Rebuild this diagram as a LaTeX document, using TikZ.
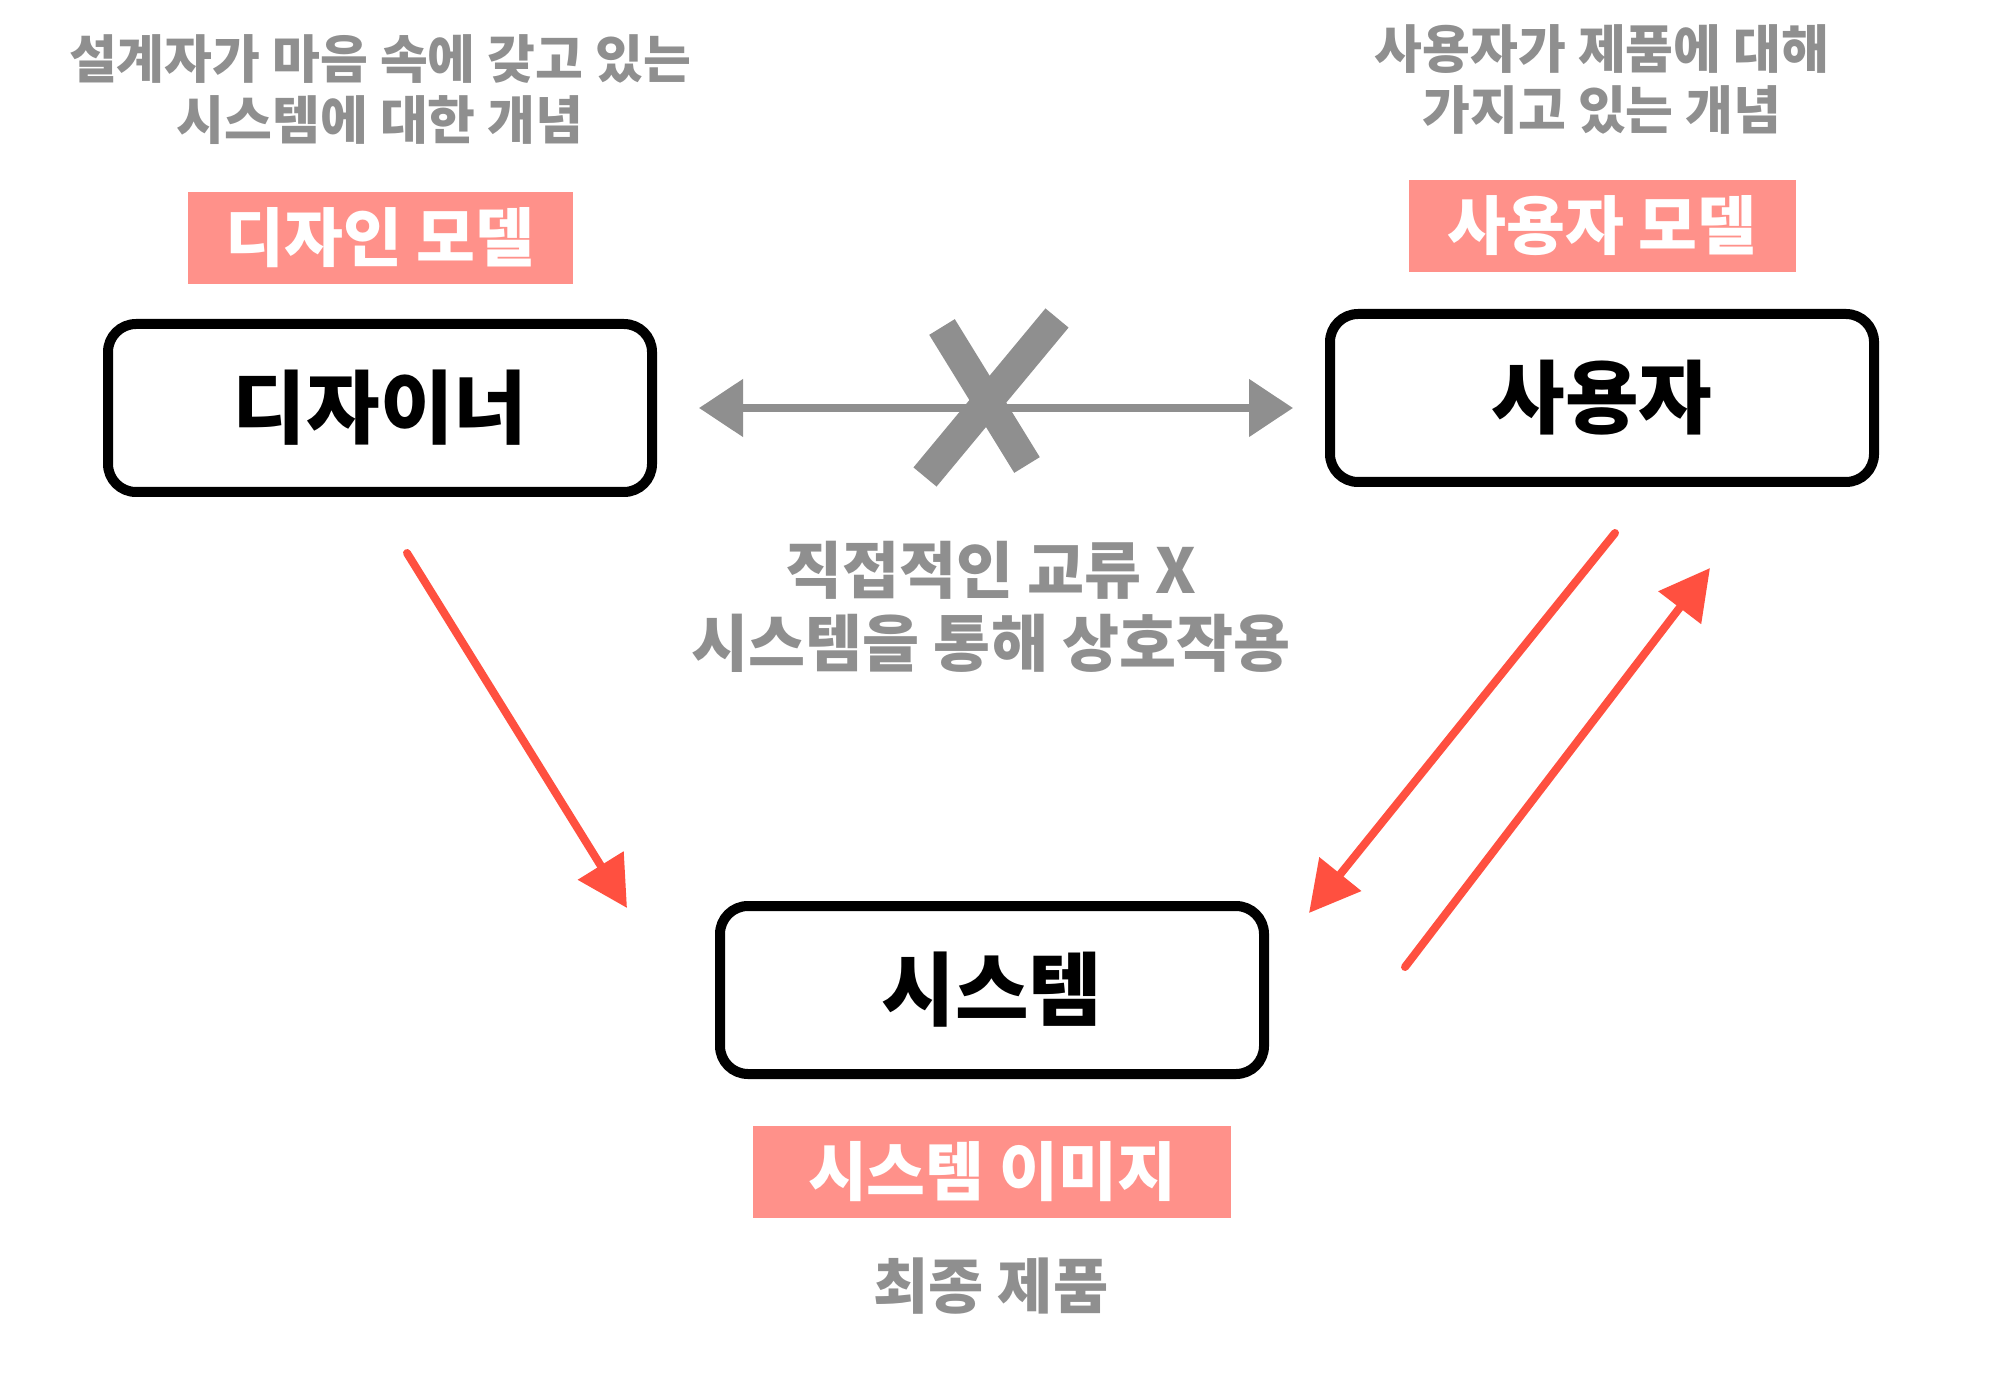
\documentclass[tikz,border=0pt]{standalone}
\usepackage{fontspec}
\setmainfont{Noto Sans CJK KR}
\usetikzlibrary{arrows.meta}
\definecolor{txtgray}{HTML}{8F8F8F}
\definecolor{salmon}{HTML}{FF918A}
\definecolor{redarr}{HTML}{FF5040}
\definecolor{arrgray}{HTML}{8F8F8F}
\begin{document}
\begin{tikzpicture}[x=0.5pt,y=-0.5pt,
  note/.style={text=txtgray, font=\bfseries\fontsize{26}{30.5}\selectfont, align=center, inner sep=0pt},
  midnote/.style={text=txtgray, font=\bfseries\fontsize{31}{36.5}\selectfont, align=center, inner sep=0pt},
  tag/.style={fill=salmon, text=white, font=\bfseries\fontsize{32}{38}\selectfont, minimum height=46pt, inner sep=0pt},
  actor/.style={draw=black, line width=5pt, rounded corners=14pt, minimum width=272pt, minimum height=84pt,
    font=\bfseries\fontsize{40}{48}\selectfont},
  flow/.style={draw=redarr, line width=4pt, line cap=round, -{Triangle[length=25pt,width=26pt]}},
  grayflow/.style={draw=arrgray, line width=4pt, {Triangle[length=22pt,width=28pt]}-{Triangle[length=22pt,width=28pt]}},
  crossmark/.style={draw=arrgray, line width=15pt}
]
\useasboundingbox (0,0) rectangle (2000,1400);

% top notes
\node[note] (noteD) at (380,90) {설계자가 마음 속에 갖고 있는\\시스템에 대한 개념};
\node[note] (noteU) at (1602,80) {사용자가 제품에 대해\\가지고 있는 개념};

% model tags
\node[tag, minimum width=192.5pt] (tagD) at (380,238) {디자인 모델};
\node[tag, minimum width=193.5pt] (tagU) at (1602,226) {사용자 모델};
\node[tag, minimum width=239pt] (tagS) at (992,1172) {시스템 이미지};

% actors
\node[actor] (designer) at (380,408) {디자이너};
\node[actor] (user) at (1602,398) {사용자};
\node[actor] (system) at (992,990) {시스템};

% gray double arrow with X
\draw[grayflow, shorten <=21pt, shorten >=16pt] (designer.east) -- (designer.east -| user.west);
\draw[crossmark] (942,327) -- (1027,465);
\draw[crossmark] (1057,318) -- (925,477);

% middle note
\node[midnote] (midnote) at (991,607) {직접적인 교류 X\\시스템을 통해 상호작용};

% bottom note
\node[midnote, font=\bfseries\fontsize{30}{36}\selectfont] (final) at (991,1286) {최종 제품};

% red arrows
\coordinate (d1) at (407,553);
\coordinate (d2) at (627,908);
\coordinate (u1) at (1615,533);
\coordinate (u2) at (1309,913);
\coordinate (s1) at (1405,967);
\coordinate (s2) at (1710,568);
\draw[flow] (d1) -- (d2);
\draw[flow] (u1) -- (u2);
\draw[flow] (s1) -- (s2);
\end{tikzpicture}
\end{document}
